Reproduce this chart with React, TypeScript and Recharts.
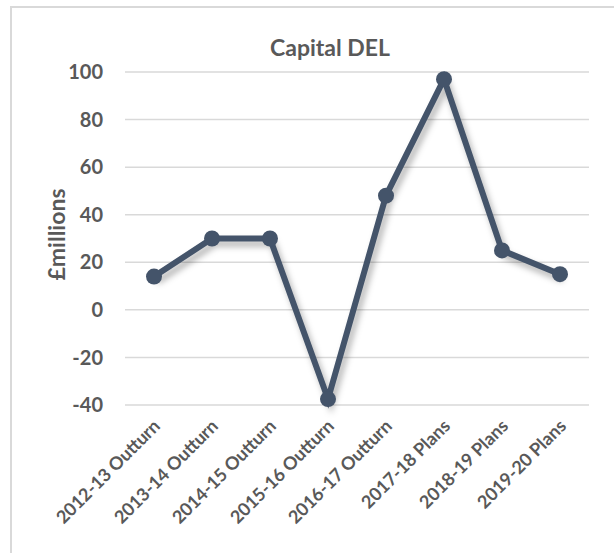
import React from "react";
import { CartesianGrid, Label, Line, LineChart, XAxis, YAxis } from "recharts";

const categories = [
  "2012-13 Outturn",
  "2013-14 Outturn",
  "2014-15 Outturn",
  "2015-16 Outturn",
  "2016-17 Outturn",
  "2017-18 Plans",
  "2018-19 Plans",
  "2019-20 Plans",
];
const capitalDel = [14, 30, 30, -37.5, 48, 97, 25, 15];
const yTicks = [-40, -20, 0, 20, 40, 60, 80, 100];

const data = categories.map((name, i) => ({ name, value: capitalDel[i] }));

const FONT = "Lato, 'Open Sans', sans-serif";
const TEXT = "#595959";
const LINE = "#44546A";

const XTick = (props: any) => {
  const { x, y, payload } = props;
  return (
    <g transform={`translate(${x + 3},${y + 10})`}>
      <text
        textAnchor="end"
        transform="rotate(-45)"
        fontFamily={FONT}
        fontWeight={700}
        fontSize={18}
        fill={TEXT}
        dy={6}
      >
        {payload.value}
      </text>
    </g>
  );
};

export default function App() {
  return (
    <div
      style={{
        position: "absolute",
        left: 0,
        top: 0,
        width: 614,
        height: 553,
        overflow: "hidden",
        background: "#fff",
      }}
    >
      <style>{`.recharts-line { filter: drop-shadow(3px 5px 3px rgba(0,0,0,0.3)); }`}</style>
      <div
        style={{
          position: "absolute",
          left: 10,
          top: 6,
          width: 640,
          height: 600,
          border: "2px solid #d9d9d9",
        }}
      />
      <div
        style={{
          position: "absolute",
          left: 230,
          top: 33,
          width: 200,
          textAlign: "center",
          fontFamily: FONT,
          fontWeight: 700,
          fontSize: 23,
          color: TEXT,
        }}
      >
        Capital DEL
      </div>
      <div style={{ position: "absolute", left: 0, top: 0 }}>
        <LineChart
          width={614}
          height={553}
          data={data}
          margin={{ top: 72, right: 25, bottom: 0, left: 0 }}
        >
          <CartesianGrid vertical={false} stroke="#d9d9d9" strokeWidth={1.5} />
          <XAxis
            dataKey="name"
            axisLine={false}
            tickLine={false}
            interval={0}
            padding={{ left: 29, right: 29 }}
            tick={<XTick />}
            height={148}
          />
          <YAxis
            type="number"
            domain={[-40, 100]}
            ticks={yTicks}
            axisLine={false}
            tickLine={false}
            tickSize={0}
            tickMargin={22}
            width={125}
            tick={{ fontFamily: FONT, fontWeight: 700, fontSize: 20, fill: TEXT }}
          >
            <Label
              content={({ viewBox }: any) => (
                <text
                  x={65}
                  y={viewBox.y + viewBox.height / 2 - 4}
                  transform={`rotate(-90, 65, ${viewBox.y + viewBox.height / 2 - 4})`}
                  textAnchor="middle"
                  fontFamily={FONT}
                  fontWeight={700}
                  fontSize={23}
                  fill={TEXT}
                >
                  £millions
                </text>
              )}
            />
          </YAxis>
          <Line
            type="linear"
            dataKey="value"
            stroke={LINE}
            strokeWidth={6}
            dot={{ r: 8, fill: LINE, stroke: LINE, strokeWidth: 0 }}
            activeDot={false}
            isAnimationActive={false}
          />
        </LineChart>
      </div>
    </div>
  );
}
